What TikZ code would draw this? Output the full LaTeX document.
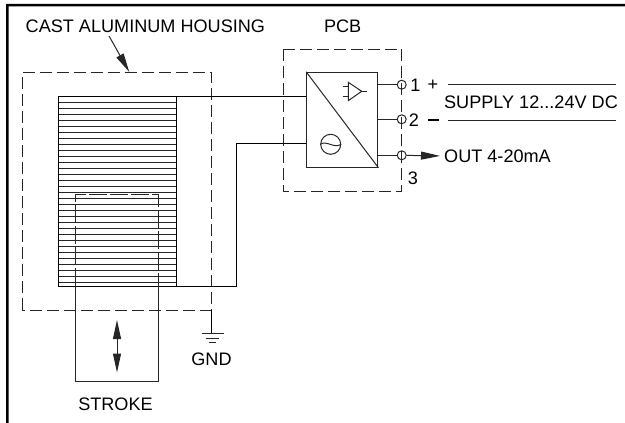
\documentclass[tikz,border=0pt]{standalone}
\usepackage{fontspec}
\setmainfont{Liberation Sans}
\usetikzlibrary{calc,positioning,arrows.meta}
\tikzset{
thinline/.style={line width=1pt,black!85},
housing/.style={thinline,dash pattern=on 12pt off 5pt},
caption/.style={inner sep=0pt,font=\fontsize{18.1pt}{20pt}\selectfont},
terminal/.style={circle,draw,thinline,inner sep=0pt,minimum size=9pt},
}

\begin{document}
\begin{tikzpicture}[x=1pt,y=-1pt,>={Triangle[length=19pt,width=8pt]}]
    \useasboundingbox (0,0) rectangle (625,423);
    % outer frame
    \fill[black] (6,423) -- (6,3.8) -- (625,3.8) -- (625,6.3) -- (8.6,6.3) -- (8.6,423) -- cycle;
    % titles
    \node[caption,anchor=west] (title) at (25.5,26.5) {CAST ALUMINUM HOUSING};
    \node[caption] (pcbtitle) at (342.7,26) {PCB};
    \node[caption] (stroketitle) at (115.5,404) {STROKE};
    \node[caption] (gndtitle) at (211.5,359) {GND};
    % coil
    \coordinate (coilnw) at (58,96);
    \coordinate (coilse) at (176,286);
    \foreach \k in {0,...,31}
        \draw[thinline] (58,96+6.03*\k) -- (176,96+6.03*\k);
    \draw[thinline,black] (coilnw) rectangle (coilse);
    % core
    \coordinate (corenw) at (75.5,194.7);
    \coordinate (corene) at (158,194.7);
    \coordinate (coresw) at (75.5,381);
    \coordinate (corese) at (158,381);
    \draw[thinline] (75.5,286) -- (coresw) -- (corese) -- (158,286);
    \draw[thinline,dash pattern=on 18pt off 3pt] (75.5,286) -- (corenw) -- (corene) -- (158,286);
    \draw[thinline,<->] (117,320) -- (117,372.5);
    % housing
    \draw[housing] (22,310) -- (22,72.5) -- (211,72.5) -- (211,310) -- cycle;
    \coordinate (arrowstart) at (109,36);
    \coordinate (arrowend) at (129.3,72);
    \draw[thinline,->] (arrowstart) -- (arrowend);
    % pcb
    \draw[housing] (283.3,49.3) rectangle (401.5,191.7);
    \node[draw,thinline,minimum width=71.3pt,minimum height=95pt,inner sep=0pt] (conv) at (342.3,119.8) {};
    \draw[thinline] (conv.north west) -- (conv.south east);
    % amplifier symbol
    \draw[thinline] (348.3,82.3) -- (348.3,100.7) -- (361.7,91.3) -- cycle;
    \draw[thinline] (361.7,91.3) -- (366.7,91.3);
    \draw[thinline] (343.3,86) -- (348.3,86);
    \draw[thinline] (343.3,96.7) -- (348.3,96.7);
    % current source
    \node[circle,draw,thinline,minimum size=20pt,inner sep=0pt] (source) at (330.7,144.3) {};
    \draw[thinline] (source.west) .. controls (327,140) and (334,149) .. (source.east);
    % terminals
    \node[terminal] (t1) at (401.7,84.7) {};
    \node[terminal] (t2) at (401.7,119.3) {};
    \node[terminal] (t3) at (401.7,155.3) {};
    \draw[thinline] (conv.east |- t1) -- (t1);
    \draw[thinline] (conv.east |- t2) -- (t2);
    \draw[thinline] (conv.east |- t3) -- (t3);
    \node[caption] (n1) at (415.5,85) {1};
    \node[caption] (n2) at (414,120.5) {2};
    \node[caption] (n3) at (413,178) {3};
    \node[caption] (plus) at (433,85) {+};
    \draw[line width=2pt,black] (428,120) -- (439,120);
    % supply
    \coordinate (s1a) at (448,84.7);
    \coordinate (s1b) at (616,84.7);
    \coordinate (s2a) at (448,120);
    \coordinate (s2b) at (616,120);
    \draw[thinline] (s1a) -- (s1b);
    \draw[thinline] (s2a) -- (s2b);
    \node[caption] (supply) at (531,102.7) {SUPPLY 12...24V DC};
    \node[caption,anchor=west] (out) at (444,156) {OUT 4-20mA};
    \draw[thinline,->,shorten >=4pt] (t3) -- (out.west);
    % wires
    \draw[thinline,black] (176,96) -- (conv.west |- 176,96);
    \draw[thinline,black] (conv.west |- 236,143.7) -- (236,143.7) -- (236,286) -- (176,286);
    % ground
    \coordinate (gnd) at (211,333.5);
    \draw[thinline,black] (211,310) -- (gnd);
    \draw[thinline] (202,333.5) -- (224,333.5);
    \draw[thinline] (205.5,338.5) -- (219,338.5);
    \draw[thinline] (208.5,342.5) -- (216,342.5);
\end{tikzpicture}
\end{document}
